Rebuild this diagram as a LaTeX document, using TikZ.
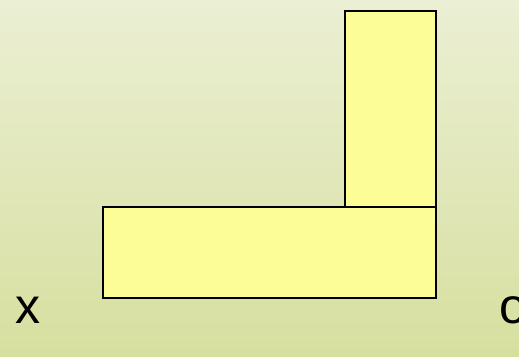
\documentclass[tikz,border=0pt]{standalone}
\usepackage{fontspec}
\setmainfont{Liberation Sans}
\definecolor{bgtop}{RGB}{235,239,212}
\definecolor{bgbot}{RGB}{215,223,159}
\definecolor{boxfill}{RGB}{253,253,152}
\begin{document}
\begin{tikzpicture}[x=1pt,y=-1pt,
  blockbox/.style={draw=black,line width=1.6pt,fill=boxfill,rectangle,inner sep=0pt},
  lbl/.style={inner sep=0pt,font=\fontsize{50}{50}\selectfont,anchor=base west}]
  \shade[top color=bgtop,bottom color=bgbot] (0,0) rectangle (519,356);
  \useasboundingbox (0,0) rectangle (519,356);
  \node[blockbox,minimum width=333pt,minimum height=91pt] (bottom) at (269.5,252.5) {};
  \node[blockbox,minimum width=91pt,minimum height=196pt] (top) at (390.5,109) {};
  \node[lbl] (xl) at (15,323) {x};
  \node[lbl] (ol) at (499,323) {o};
\end{tikzpicture}
\end{document}
